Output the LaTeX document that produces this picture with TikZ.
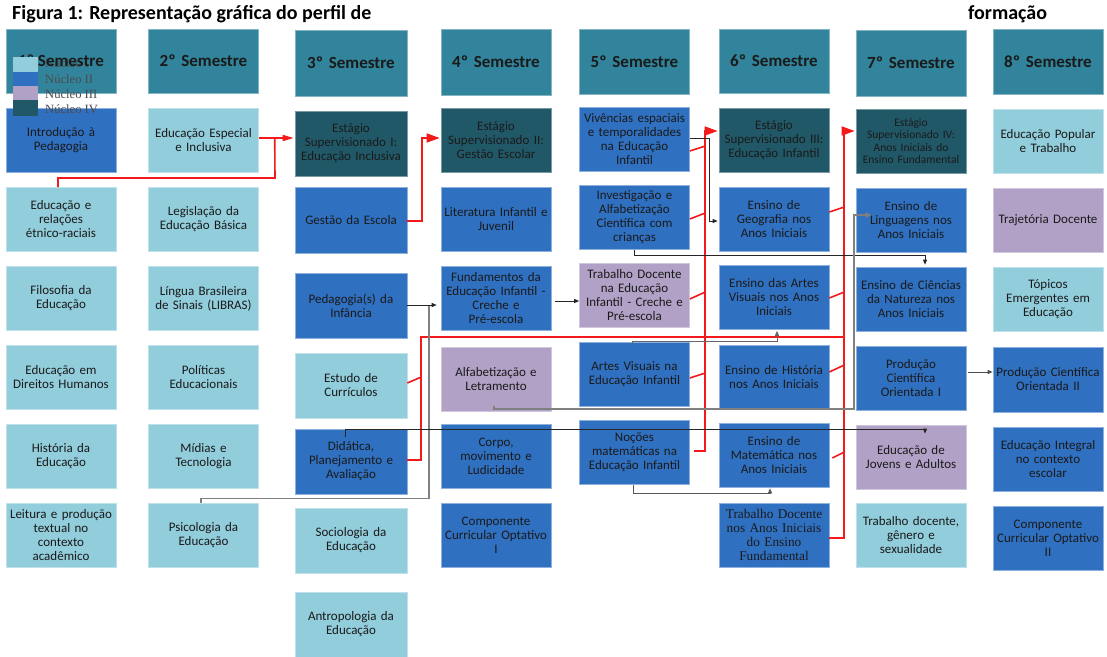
\documentclass[tikz,border=0pt]{standalone}
\usepackage{fontspec}
\setmainfont{Carlito}
\newfontfamily\tnr{Liberation Serif}
\usetikzlibrary{arrows.meta}
\definecolor{cH}{HTML}{31849B}
\definecolor{cI}{HTML}{92CDDC}
\definecolor{cII}{HTML}{3070C0}
\definecolor{cIII}{HTML}{B2A1C7}
\definecolor{cIV}{HTML}{215868}
\definecolor{txt}{HTML}{1A1A1A}
\definecolor{rd}{HTML}{F21A1A}
\tikzset{
 box/.style={rectangle, inner xsep=1pt, inner ysep=0pt, text width=108pt, minimum width=110pt,
   minimum height=64pt, align=center, text=txt, font=\fontsize{13}{14}\selectfont, line width=0.6pt},
 wide/.style={text width=110pt, minimum width=112pt, minimum height=65pt},
 hdr/.style={box, fill=cH, draw=cH!60!white, font=\bfseries\fontsize{17}{20}\selectfont},
 nI/.style={box, fill=cI, draw=cI!60!white},
 nII/.style={box, fill=cII, draw=cII!55!white},
 nIII/.style={box, fill=cIII, draw=cIII!60!white},
 nIV/.style={box, fill=cIV, draw=cIV!60!white},
 rline/.style={draw=rd, line width=1.6pt},
 rarrow/.style={rline, -{Triangle[length=13pt,width=9pt]}},
 rarrowS/.style={rline, -{Triangle[length=11pt,width=6pt]}},
 bline/.style={draw=black!85, line width=0.9pt},
 barrow/.style={bline, -{Triangle[length=5pt,width=4pt]}},
 gline/.style={draw=black!50, line width=1.6pt},
 garrow/.style={gline, -{Triangle[length=6pt,width=5pt]}},
 legtxt/.style={anchor=west, inner sep=0pt, text=black!70, font=\tnr\fontsize{12.6}{14}\selectfont},
}
\begin{document}
\begin{tikzpicture}[x=1pt,y=-1pt]
\useasboundingbox (0,0) rectangle (1107,656);
\fill[white] (0,0) rectangle (1107,656);

% title
\node[anchor=west, inner sep=0pt, font=\bfseries\fontsize{20}{22}\selectfont] (title) at (12,14) {Figura 1: Representação gráfica do perfil de};
\node[anchor=west, inner sep=0pt, font=\bfseries\fontsize{20}{22}\selectfont] (title2) at (968,14) {formação};

% column 1
\node[hdr] (a0) at (61,61) {};
\node[legtxt] (lg1) at (45,63) {Núcleo I};
\node[font=\bfseries\fontsize{17}{20}\selectfont, text=txt] (a0t) at (a0) {1º Semestre};
\node[nII] (a1) at (61,140) {Introdução à\\Pedagogia};
\node[nI] (a2) at (61,219.5) {Educação e\\relações\\étnico-raciais};
\node[nI] (a3) at (61,298.5) {Filosofia da\\Educação};
\node[nI] (a4) at (61,377.5) {Educação em\\Direitos Humanos};
\node[nI] (a5) at (61,456) {História da\\Educação};
\node[nI] (a6) at (61,535) {Leitura e produção\\textual no\\contexto\\acadêmico};

% column 2
\node[hdr] (b0) at (203.5,61) {2º Semestre};
\node[nI] (b1) at (203.5,140) {Educação Especial\\e Inclusiva};
\node[nI] (b2) at (203.5,219.5) {Legislação da\\Educação Básica};
\node[nI] (b3) at (203.5,298.5) {Língua Brasileira\\de Sinais (LIBRAS)};
\node[nI] (b4) at (203.5,377.5) {Políticas\\Educacionais};
\node[nI] (b5) at (203.5,456) {Mídias e\\Tecnologia};
\node[nI] (b6) at (203.5,535) {Psicologia da\\Educação};

% column 3
\node[hdr, wide, minimum height=66pt] (c0) at (351,63) {3º Semestre};
\node[nIV, wide] (c1) at (351,143.5) {Estágio\\Supervisionado I:\\Educação Inclusiva};
\node[nII, wide, minimum height=66pt] (c2) at (351,220) {Gestão da Escola};
\node[nII, wide] (c3) at (351,305.5) {Pedagogia(s) da\\Infância};
\node[nI, wide] (c4) at (351,385.5) {Estudo de\\Currículos};
\node[nII, wide] (c5) at (351,461.5) {Didática,\\Planejamento e\\Avaliação};
\node[nI, wide] (c6) at (351,540.5) {Sociologia da\\Educação};
\node[nI, wide] (c7) at (351,624.5) {Antropologia da\\Educação};

% column 4
\node[hdr, minimum height=66pt] (d0) at (496,62) {4º Semestre};
\node[nIV] (d1) at (496,140) {Estágio\\Supervisionado II:\\Gestão Escolar};
\node[nII] (d2) at (496,219) {Literatura Infantil e\\Juvenil};
\node[nII] (d3) at (496,298) {Fundamentos da\\Educação Infantil -\\Creche e\\Pré-escola};
\node[nIII] (d4) at (496,379) {Alfabetização e\\Letramento};
\node[nII] (d5) at (496,456.5) {Corpo,\\movimento e\\Ludicidade};
\node[nII] (d6) at (496,535) {Componente\\Curricular Optativo\\I};

% column 5
\node[hdr, minimum height=65pt] (e0) at (634.5,61.5) {5º Semestre};
\node[nII] (e1) at (634.5,139) {Vivências espaciais\\e temporalidades\\na Educação\\Infantil};
\node[nII] (e2) at (634.5,217.5) {Investigação e\\Alfabetização\\Científica com\\crianças};
\node[nIII] (e3) at (634.5,295.5) {Trabalho Docente\\na Educação\\Infantil - Creche e\\Pré-escola};
\node[nII] (e4) at (634.5,374.5) {Artes Visuais na\\Educação Infantil};
\node[nII] (e5) at (634.5,452.5) {Noções\\matemáticas na\\Educação Infantil};

% column 6
\node[hdr] (f0) at (774,61) {6º Semestre};
\node[nIV] (f1) at (774,140) {Estágio\\Supervisionado III:\\Educação Infantil};
\node[nII] (f2) at (774,219) {Ensino de\\Geografia nos\\Anos Iniciais};
\node[nII] (f3) at (774,297.5) {Ensino das Artes\\Visuais nos Anos\\Iniciais};
\node[nII] (f4) at (774,377) {Ensino de História\\nos Anos Iniciais};
\node[nII] (f5) at (774,455.5) {Ensino de\\Matemática nos\\Anos Iniciais};
\node[nII, font=\tnr\fontsize{13.3}{14}\selectfont] (f6) at (774,535) {Trabalho Docente\\nos Anos Iniciais\\do Ensino\\Fundamental};

% column 7
\node[hdr, minimum height=66pt] (g0) at (911,63) {7º Semestre};
\node[nIV, font=\fontsize{11.5}{12.5}\selectfont] (g1) at (911,141) {Estágio\\Supervisionado IV:\\Anos Iniciais do\\Ensino Fundamental};
\node[nII] (g2) at (911,220) {Ensino de\\Linguagens nos\\Anos Iniciais};
\node[nII] (g3) at (911,299) {Ensino de Ciências\\da Natureza nos\\Anos Iniciais};
\node[nII] (g4) at (911,378) {Produção\\Científica\\Orientada I};
\node[nIII] (g5) at (911,457) {Educação de\\Jovens e Adultos};
\node[nI] (g6) at (911,535.5) {Trabalho docente,\\gênero e\\sexualidade};

% column 8
\node[hdr, minimum height=65pt] (h0) at (1048,61.5) {8º Semestre};
\node[nI] (h1) at (1048,141) {Educação Popular\\e Trabalho};
\node[nIII] (h2) at (1048,220) {Trajetória Docente};
\node[nI] (h3) at (1048,299) {Tópicos\\Emergentes em\\Educação};
\node[nII, minimum height=65pt] (h4) at (1048,379.5) {Produção Científica\\Orientada II};
\node[nII] (h5) at (1048,459) {Educação Integral\\no contexto\\escolar};
\node[nII] (h6) at (1048,538) {Componente\\Curricular Optativo\\II};

% ---------- red connectors ----------
\coordinate (r1a) at (275,178);
\draw[rline] ([xshift=-3pt]a2.north) |- (r1a) -- ([xshift=-20pt,yshift=5.5pt]c1.west);
\draw[rarrowS] ([yshift=2pt]b1.east) -- ([xshift=-1pt,yshift=5.5pt]c1.west);

\draw[rarrow] ([yshift=-1pt]c2.east) -| ([xshift=-19pt,yshift=2pt]d1.west) -- ([xshift=-1pt,yshift=2pt]d1.west);

\coordinate (r3a) at (421,337);
\coordinate (r3b) at (844,337);
\draw[rline] ([yshift=1.5pt]c5.east) -| (r3a) -- (r3b);
\draw[rline] ([yshift=2.5pt]c4.east) -- ++(14,-6);

\draw[rarrow] ([xshift=4pt,yshift=1.5pt]e5.east) -| ([xshift=-14pt,yshift=9pt]f1.west) -- ([xshift=-1pt,yshift=9pt]f1.west);
\draw[rline] ([yshift=-12pt]e1.east) -- ++(15.5,-5);
\draw[rline] ([yshift=-1.5pt]e2.east) -- ++(15.5,-6);
\draw[rline] ([yshift=-3.5pt]e3.east) -- ++(15.5,-7);
\draw[rline] ([yshift=-3.5pt]e4.east) -- ++(15.5,-5);

\draw[rarrow] ([yshift=-3pt]f6.east) -| ([xshift=-12pt,yshift=10pt]g1.west) -- ([xshift=-1pt,yshift=10pt]g1.west);
\draw[rline] ([yshift=7pt]f2.east) -- ++(15,-5);
\draw[rline] ([yshift=-0.5pt]f3.east) -- ++(15,-6);
\draw[rline] ([yshift=5pt]f4.east) -- ++(15,-7);
\draw[rline] ([xshift=3pt,yshift=-2.5pt]f5.east) -- ++(12,-6);

% ---------- black / gray connectors ----------
\coordinate (k1a) at (429,305);
\draw[gline, line width=1.3pt] ([xshift=-2.5pt]b6.north) -- ++(0,-4) -| (k1a);
\draw[barrow] ([yshift=0.5pt]c3.east) -- ([xshift=-4pt,yshift=-7pt]d3.west);

\coordinate (k2) at ([xshift=4pt,yshift=-3pt]d3.east);
\draw[barrow] (k2) -- (k2 -| e3.west);

\draw[barrow] ([yshift=1pt]e1.east) -| ([xshift=-9pt,yshift=-2pt]f2.west) -- ([xshift=-1pt,yshift=-2pt]f2.west);

\draw[barrow] (e2.south) |- ([xshift=14pt,yshift=11pt]g3.north) -- ([xshift=14pt,yshift=2pt]g3.north);

\coordinate (k5a) at (854,409);
\draw[garrow] ([xshift=-2pt,yshift=5pt]d4.south) |- (k5a) |- ([xshift=16pt,yshift=5pt]g2.west);

\draw[barrow] ([xshift=-6pt,yshift=-8pt]c5.north) |- ([xshift=14pt,yshift=-5pt]g5.north) -- ([xshift=14pt,yshift=-9pt]g5.north);

\draw[barrow, draw=black!60] ([xshift=-2.5pt,yshift=-2pt]e4.north) |- ([xshift=3pt,yshift=-12pt]f3.south) -- ([xshift=3pt,yshift=-1pt]f3.south);

\draw[barrow, draw=black!65] ([xshift=-1.5pt]e5.south) |- ([xshift=-4pt,yshift=-6pt]f5.south) -- ([xshift=-4pt,yshift=-0.5pt]f5.south);

\coordinate (k9) at ([xshift=2pt,yshift=6pt]g4.east);
\draw[barrow, draw=black!70] (k9) -- (k9 -| h4.west);

% ---------- legend ----------
\fill[cI] (13,57) rectangle (38,72);
\fill[cII] (13,72) rectangle (38,86);
\fill[cIII] (13,86) rectangle (38,100);
\fill[cIV] (13,100) rectangle (38,116);
\node[legtxt] (lg2) at (45,79) {Núcleo II};
\node[legtxt] (lg3) at (45,94) {Núcleo III};
\node[legtxt] (lg4) at (45,109) {Núcleo IV};
\end{tikzpicture}
\end{document}
